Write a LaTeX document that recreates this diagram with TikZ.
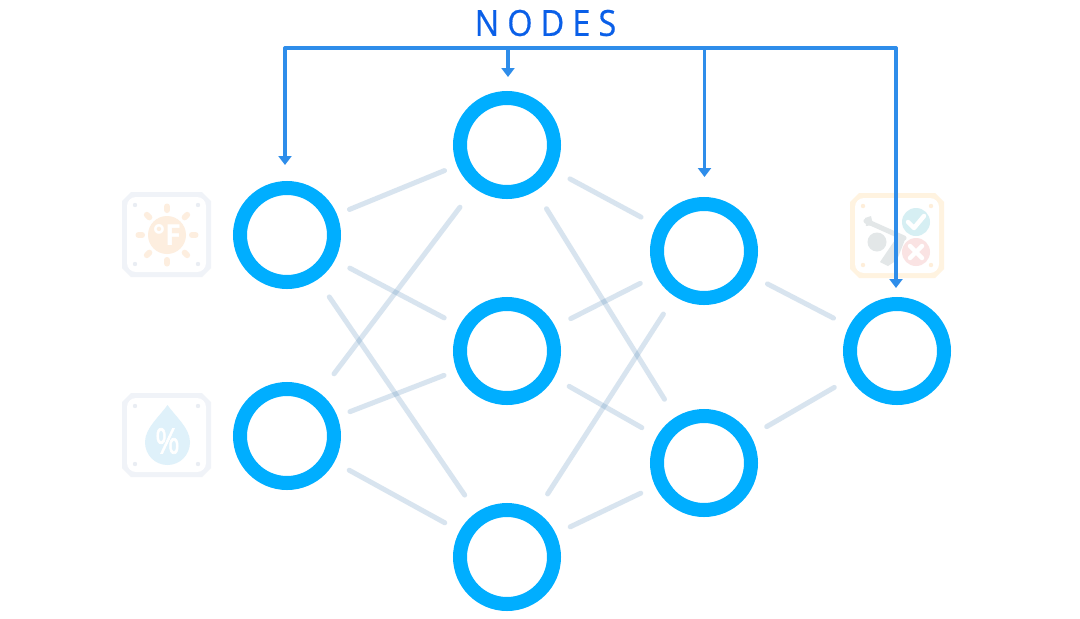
\documentclass[tikz,border=0pt]{standalone}
\usepackage{fontspec}
\setmainfont{Open Sans}
\newfontfamily\labelfont[LetterSpace=25,FakeBold=0.5]{Open Sans}
\newfontfamily\pctfont[FakeBold=2]{Open Sans}
\usetikzlibrary{arrows.meta}
\definecolor{ringc}{HTML}{00AEFF}
\definecolor{busc}{HTML}{2E8DEA}
\definecolor{titlec}{HTML}{0A5FE8}
\definecolor{edgec}{HTML}{3E7CB1}
\definecolor{frameb}{HTML}{F0F3F8}
\definecolor{frameo}{HTML}{FFF3E0}
\definecolor{dotb}{HTML}{E9EDF3}
\definecolor{doto}{HTML}{FEEEDA}
\definecolor{sunc}{HTML}{FDEEDF}
\definecolor{dropc}{HTML}{DFF1FA}
\definecolor{okc}{HTML}{D6EFF3}
\definecolor{noc}{HTML}{FAE3E3}
\definecolor{golfc}{HTML}{E3E7E8}
\tikzset{
  x=1pt,y=-1pt,
  ring/.style={circle,draw=ringc,line width=14pt,minimum size=94pt,inner sep=0pt,outer sep=7pt},
  link/.style={edgec,opacity=.2,line width=5pt,line cap=round,shorten <=#1,shorten >=#1},
  link/.default=15.5pt,
  longlink/.style={link=21pt},
  bus/.style={busc,line width=3.4pt,line join=round,line cap=round},
  drop/.style={bus,-{Triangle[length=9pt,width=13pt]}},
  glyph/.style={text=white,inner sep=0pt},
  ray/.style={sunc,line width=6pt,line cap=round},
  tick/.style={white,line width=4.5pt,line cap=round,line join=round},
}
\newcommand{\chipframe}[6]{% x0,y0,x1,y1,frame colour,dot colour
  \fill[#5] (#1+9,#2) -- (#3-9,#2) -- (#3,#2+9) -- (#3,#4-9) -- (#3-9,#4) -- (#1+9,#4) -- (#1,#4-9) -- (#1,#2+9) -- cycle;
  \fill[white,rounded corners=9pt] (#1+5,#2+5) rectangle (#3-5,#4-5);
  \foreach \dx/\dy in {#1+13/#2+13,#3-13/#2+13,#1+13/#4-13,#3-13/#4-13}
    \fill[#6] (\dx,\dy) circle (2.2);
}
\begin{document}
\begin{tikzpicture}
\useasboundingbox (0,0) rectangle (1080,619);
\fill[white] (0,0) rectangle (1080,619);

% temperature icon
\chipframe{122}{192}{211}{277}{frameb}{dotb}
\foreach \a in {0,45,...,315}
  \draw[ray] (167,235) ++(\a:25) -- ++(\a:3.5);
\fill[sunc] (167,235) circle (19);
\node[glyph,font=\bfseries\fontsize{29pt}{29pt}\selectfont] (tempunit) at (167,235) {°F};

% humidity icon
\chipframe{122}{393}{211}{477}{frameb}{dotb}
\fill[dropc] (167.5,405) .. controls (160,416) and (145,428) .. (145,442)
  .. controls (145,455) and (155,465) .. (167.5,465)
  .. controls (180,465) and (190,455) .. (190,442)
  .. controls (190,428) and (175,416) .. (167.5,405) -- cycle;
\node[glyph,font=\pctfont\fontsize{35pt}{35pt}\selectfont,xscale=.85] (humunit) at (167.5,441) {\%};

% outcome icon
\chipframe{850}{193}{944}{278}{frameo}{doto}
\fill[golfc] (877,242) circle (9.5);
\draw[golfc,line width=5pt,line cap=round,line join=round] (866,221) -- (904,238);
\fill[golfc] (865,218) -- (871,216) -- (873,225) -- (866,226) -- cycle;
\fill[golfc] (880,262) -- (897,237) -- (906,237) -- (897,260) -- (888,266) -- cycle;
\fill[okc] (916,222) circle (14);
\fill[noc] (916,252) circle (14);
\draw[tick] (908,222) -- (914,228) -- (924,216);
\draw[tick] (910,246) -- (922,258) (922,246) -- (910,258);

% nodes
\node[ring] (a1) at (287,235) {};
\node[ring] (a2) at (287,436) {};
\node[ring] (b1) at (507,145) {};
\node[ring] (b2) at (507,351) {};
\node[ring] (b3) at (507,557) {};
\node[ring] (c1) at (704,251) {};
\node[ring] (c2) at (704,463) {};
\node[ring] (d1) at (897,351) {};

% connections
\draw[link=13.5pt] (a1) -- (b1);
\draw[link=17pt] (a1) -- (b2);
\draw[longlink] (a1) -- (b3);
\draw[link=24pt] (a2) -- (b1);
\draw[link=13.5pt] (a2) -- (b2);
\draw[link=17pt] (a2) -- (b3);
\draw[link=17.5pt] (b1) -- (c1);
\draw[longlink] (b1) -- (c2);
\draw[link=17.5pt] (b2) -- (c1);
\draw[link=17.5pt] (b2) -- (c2);
\draw[longlink] (b3) -- (c1);
\draw[link=16pt] (b3) -- (c2);
\draw[link=17.5pt] (c1) -- (d1);
\draw[link=18.5pt] (c2) -- (d1);

% title and pointers
\node[text=titlec,inner sep=0pt,xscale=.9,font=\labelfont\fontsize{36pt}{36pt}\selectfont] (title) at (545.5,23) {NODES};
\coordinate (busA) at (285,48);
\coordinate (busB) at (508,48);
\coordinate (busC) at (704.5,48);
\coordinate (busD) at (896,48);
\coordinate (tipA) at (285,165);
\coordinate (tipB) at (508,77);
\coordinate (tipC) at (704.5,177);
\coordinate (tipD) at (896,288);
\draw[bus] (busA) -- (busD);
\draw[drop] (busA) -- (tipA);
\draw[drop] (busB) -- (tipB);
\draw[drop] (busC) -- (tipC);
\draw[drop] (busD) -- (tipD);
\end{tikzpicture}
\end{document}
